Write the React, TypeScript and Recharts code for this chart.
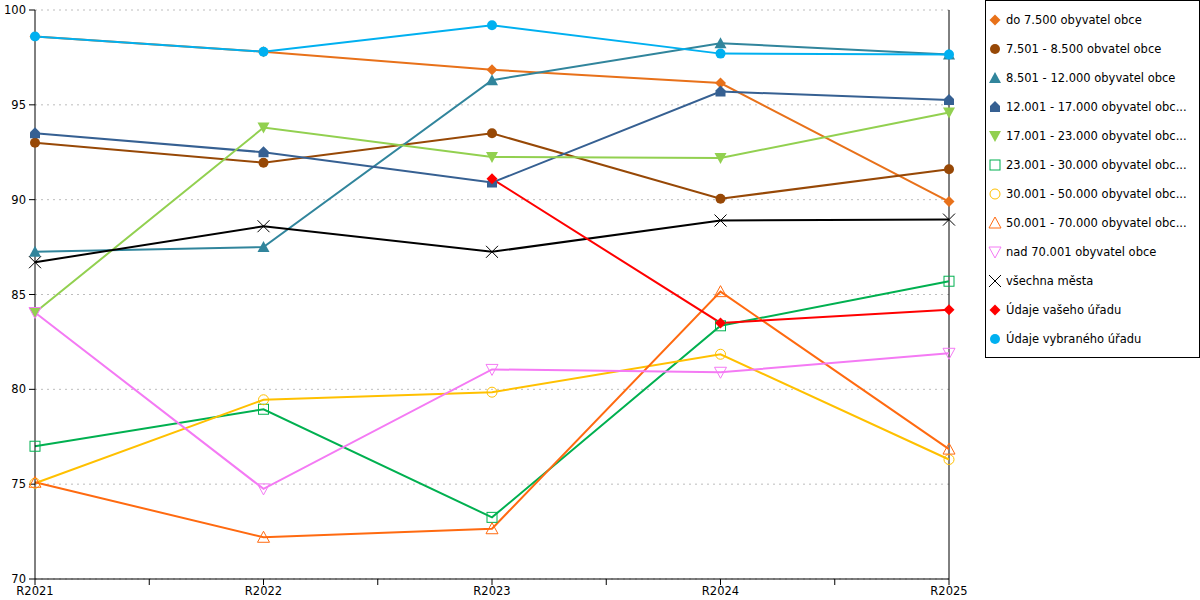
import React from 'react';
import { LineChart, Line, XAxis, YAxis, CartesianGrid, ReferenceLine } from 'recharts';

const years = ['R2021', 'R2022', 'R2023', 'R2024', 'R2025'];
const yTicks = [70, 75, 80, 85, 90, 95, 100];
const xTicks = [0, 0.5, 1, 1.5, 2, 2.5, 3, 3.5, 4];

const do7500 = [98.6, 97.8, 96.85, 96.15, 89.9];
const od7501 = [93.0, 91.95, 93.5, 90.05, 91.6];
const od8501 = [87.25, 87.5, 96.3, 98.25, 97.65];
const od12001 = [93.5, 92.5, 90.9, 95.7, 95.25];
const od17001 = [84.05, 93.8, 92.25, 92.2, 94.6];
const od23001 = [77.0, 78.95, 73.25, 83.35, 85.7];
const od30001 = [75.05, 79.45, 79.85, 81.85, 76.3];
const od50001 = [75.1, 72.2, 72.65, 85.15, 76.85];
const nad70001 = [84.05, 74.75, 81.05, 80.9, 81.9];
const vsechnaMesta = [86.7, 88.6, 87.25, 88.9, 88.95];
const vasUrad = [null, null, 91.1, 83.5, 84.2];
const vybranyUrad = [98.6, 97.8, 99.2, 97.7, 97.65];

type Shape =
  | 'diamond' | 'circle' | 'triangle' | 'house' | 'triangleDown'
  | 'square' | 'circleOpen' | 'triangleOpen' | 'triangleDownOpen' | 'x';

const series: { key: string; name: string; values: (number | null)[]; color: string; shape: Shape }[] = [
  { key: 's1', name: 'do 7.500 obyvatel obce', values: do7500, color: '#E8711A', shape: 'diamond' },
  { key: 's2', name: '7.501 - 8.500 obvatel obce', values: od7501, color: '#974806', shape: 'circle' },
  { key: 's3', name: '8.501 - 12.000 obyvatel obce', values: od8501, color: '#31859C', shape: 'triangle' },
  { key: 's4', name: '12.001 - 17.000 obyvatel obc...', values: od12001, color: '#366092', shape: 'house' },
  { key: 's5', name: '17.001 - 23.000 obyvatel obc...', values: od17001, color: '#92D050', shape: 'triangleDown' },
  { key: 's6', name: '23.001 - 30.000 obyvatel obc...', values: od23001, color: '#00B050', shape: 'square' },
  { key: 's7', name: '30.001 - 50.000 obyvatel obc...', values: od30001, color: '#FFC000', shape: 'circleOpen' },
  { key: 's8', name: '50.001 - 70.000 obyvatel obc...', values: od50001, color: '#FF6A10', shape: 'triangleOpen' },
  { key: 's9', name: 'nad 70.001 obyvatel obce', values: nad70001, color: '#F47AF4', shape: 'triangleDownOpen' },
  { key: 's10', name: 'všechna města', values: vsechnaMesta, color: '#000000', shape: 'x' },
  { key: 's11', name: 'Údaje vašeho úřadu', values: vasUrad, color: '#FF0000', shape: 'diamond' },
  { key: 's12', name: 'Údaje vybraného úřadu', values: vybranyUrad, color: '#00B0F0', shape: 'circle' },
];

const data = years.map((label, i) => {
  const row: Record<string, number | string | null> = { x: i, label };
  series.forEach((s) => {
    row[s.key] = s.values[i];
  });
  return row;
});

function Marker({ cx, cy, shape, color }: { cx: number; cy: number; shape: Shape; color: string }) {
  switch (shape) {
    case 'diamond':
      return <polygon points={`${cx},${cy - 5.5} ${cx + 5.5},${cy} ${cx},${cy + 5.5} ${cx - 5.5},${cy}`} fill={color} />;
    case 'circle':
      return <circle cx={cx} cy={cy} r={5} fill={color} />;
    case 'triangle':
      return <polygon points={`${cx},${cy - 6} ${cx + 6},${cy + 5} ${cx - 6},${cy + 5}`} fill={color} />;
    case 'house':
      return (
        <polygon
          points={`${cx - 5},${cy + 5} ${cx - 5},${cy - 1} ${cx},${cy - 6} ${cx + 5},${cy - 1} ${cx + 5},${cy + 5}`}
          fill={color}
        />
      );
    case 'triangleDown':
      return <polygon points={`${cx - 6},${cy - 5} ${cx + 6},${cy - 5} ${cx},${cy + 6}`} fill={color} />;
    case 'square':
      return <rect x={cx - 5} y={cy - 5} width={10} height={10} fill="none" stroke={color} strokeWidth={1} />;
    case 'circleOpen':
      return <circle cx={cx} cy={cy} r={5} fill="none" stroke={color} strokeWidth={1} />;
    case 'triangleOpen':
      return <polygon points={`${cx},${cy - 6} ${cx + 6},${cy + 5} ${cx - 6},${cy + 5}`} fill="none" stroke={color} strokeWidth={1} />;
    case 'triangleDownOpen':
      return <polygon points={`${cx - 6},${cy - 5} ${cx + 6},${cy - 5} ${cx},${cy + 6}`} fill="none" stroke={color} strokeWidth={1} />;
    case 'x':
      return (
        <g stroke={color} strokeWidth={1}>
          <line x1={cx - 6} y1={cy - 6} x2={cx + 6} y2={cy + 6} />
          <line x1={cx - 6} y1={cy + 6} x2={cx + 6} y2={cy - 6} />
        </g>
      );
    default:
      return null;
  }
}

const makeDot = (shape: Shape, color: string) => (props: any) => {
  const { cx, cy, index } = props;
  if (cx == null || cy == null || props.value == null) return <g key={index} />;
  return (
    <g key={index}>
      <Marker cx={cx} cy={cy} shape={shape} color={color} />
    </g>
  );
};

const font = 'DejaVu Sans';

export default function App() {
  return (
    <div style={{ position: 'absolute', left: 0, top: 0, width: 1200, height: 600, background: '#fff', fontFamily: font }}>
      <LineChart width={1200} height={600} data={data} margin={{ top: 10, right: 251, left: 0, bottom: 0 }}>
        <CartesianGrid vertical={false} stroke="#BDBDBD" strokeDasharray="2 4" />
        <XAxis
          type="number"
          dataKey="x"
          domain={[0, 4]}
          ticks={xTicks}
          interval={0}
          height={21}
          tickSize={6}
          tickMargin={2}
          stroke="#000"
          tick={{ fill: '#000', fontSize: 11.5, fontFamily: font }}
          tickFormatter={(v: number) => (Number.isInteger(v) ? years[v] : '')}
        />
        <YAxis
          domain={[70, 100]}
          ticks={yTicks}
          interval={0}
          width={35}
          tickSize={6}
          tickMargin={3}
          stroke="#000"
          tick={{ fill: '#000', fontSize: 11.5, fontFamily: font }}
        />
        <ReferenceLine x={4} stroke="#000" strokeWidth={1} />
        {series.map((s) => (
          <Line
            key={s.key}
            dataKey={s.key}
            name={s.name}
            type="linear"
            stroke={s.color}
            strokeWidth={2}
            dot={makeDot(s.shape, s.color)}
            activeDot={false}
            connectNulls={false}
            isAnimationActive={false}
          />
        ))}
      </LineChart>
      <div
        style={{
          position: 'absolute',
          left: 985,
          top: 0,
          width: 215,
          height: 358,
          boxSizing: 'border-box',
          border: '1px solid #000',
          background: '#fff',
          paddingTop: 4,
        }}
      >
        {series.map((s) => (
          <div key={s.key} style={{ display: 'flex', alignItems: 'center', height: 29, whiteSpace: 'nowrap' }}>
            <svg width={20} height={14} style={{ flex: 'none' }}>
              <Marker cx={9} cy={7} shape={s.shape} color={s.color} />
            </svg>
            <span style={{ fontSize: 11.5, color: '#000', marginLeft: 0 }}>{s.name}</span>
          </div>
        ))}
      </div>
    </div>
  );
}
